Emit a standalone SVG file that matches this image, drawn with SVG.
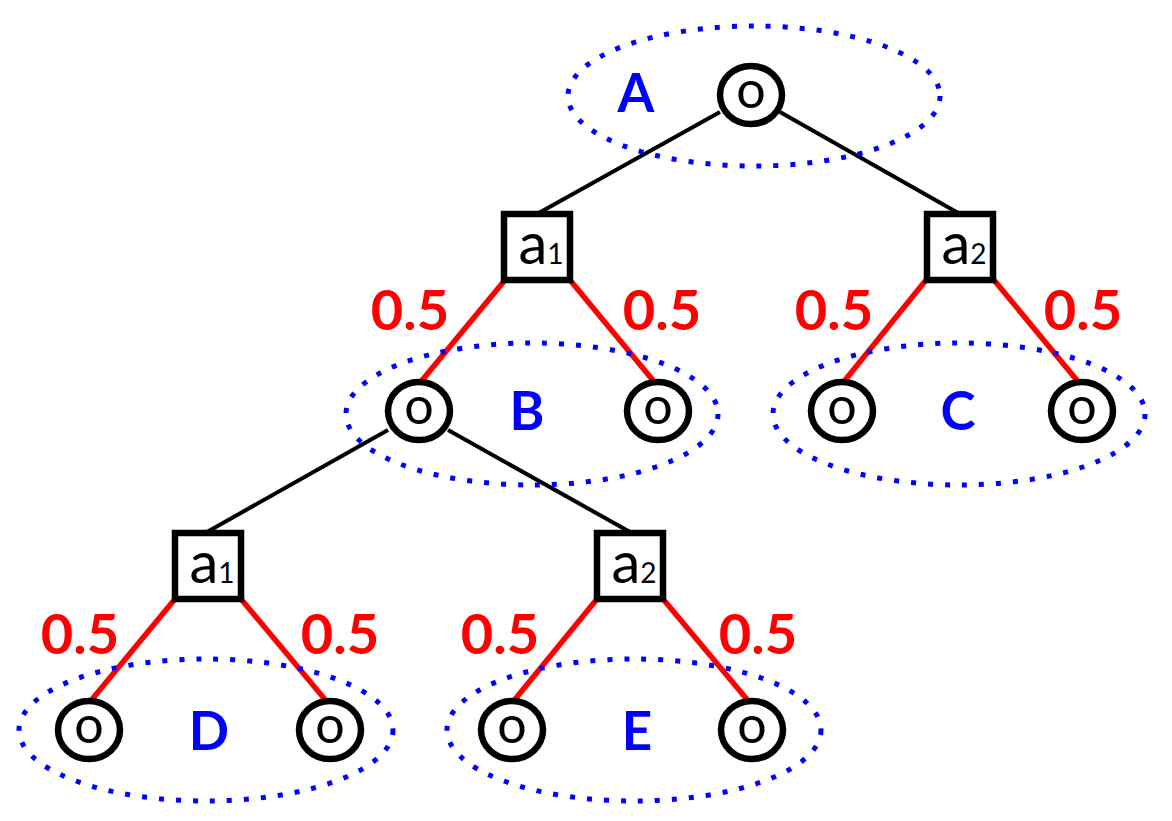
<svg xmlns="http://www.w3.org/2000/svg" width="1172" height="821" viewBox="0 0 1172 821">
<style>
.grp{fill:none;stroke:#0000ff;stroke-width:5;stroke-dasharray:5 12}
.edge{stroke:#000;stroke-width:4;fill:none}
.prob{stroke:#ff0000;stroke-width:5.5;fill:none}
.obs ellipse{fill:#fff;stroke:#000;stroke-width:6.5}
.act rect{fill:#fff;stroke:#000;stroke-width:6.5}
.t{font-family:Lato,"Liberation Sans",sans-serif;fill:#000;text-anchor:middle}
.o{font-size:52px}
.a{font-size:58px}
.sub{font-size:28px}
.lbl{font-family:Lato,"Liberation Sans",sans-serif;font-weight:bold;fill:#0000ff;font-size:53px;text-anchor:middle}
.p{font-family:Lato,"Liberation Sans",sans-serif;font-weight:bold;fill:#ff0000;font-size:56px;text-anchor:middle}
</style>
<g id="connectors">
<line class="edge" x1="720" y1="112" x2="537" y2="214"/>
<line class="edge" x1="780" y1="112" x2="960" y2="214"/>
<line class="edge" x1="388" y1="430" x2="207" y2="532"/>
<line class="edge" x1="448" y1="430" x2="630" y2="532"/>
<line class="prob" x1="505" y1="280" x2="419" y2="384"/>
<line class="prob" x1="570" y1="280" x2="656" y2="384"/>
<line class="prob" x1="926" y1="280" x2="842" y2="384"/>
<line class="prob" x1="994" y1="280" x2="1080" y2="384"/>
<line class="prob" x1="175" y1="599" x2="89" y2="703"/>
<line class="prob" x1="241" y1="599" x2="328" y2="703"/>
<line class="prob" x1="597" y1="599" x2="512" y2="703"/>
<line class="prob" x1="663" y1="599" x2="750" y2="703"/>
</g>
<g id="groups">
<ellipse class="grp" cx="754" cy="96" rx="186" ry="70"/>
<ellipse class="grp" cx="532" cy="414" rx="186" ry="71"/>
<ellipse class="grp" cx="959" cy="414" rx="186" ry="71"/>
<ellipse class="grp" cx="206" cy="730" rx="187" ry="71"/>
<ellipse class="grp" cx="634" cy="730" rx="187" ry="71"/>
</g>
<g id="labels">
<text class="lbl" x="636" y="112">A</text>
<text class="lbl" x="527" y="430">B</text>
<text class="lbl" x="958" y="430">C</text>
<text class="lbl" x="209" y="750">D</text>
<text class="lbl" x="637" y="750">E</text>
<text class="p" x="410" y="330">0.5</text>
<text class="p" x="662" y="330">0.5</text>
<text class="p" x="834" y="330">0.5</text>
<text class="p" x="1083" y="330">0.5</text>
<text class="p" x="80" y="654">0.5</text>
<text class="p" x="340" y="654">0.5</text>
<text class="p" x="500" y="654">0.5</text>
<text class="p" x="758" y="654">0.5</text>
</g>
<g id="root" class="obs"><ellipse cx="751" cy="95" rx="31" ry="29"/><text class="t o" x="751" y="108">o</text></g>
<g id="a1-top" class="act"><rect x="504" y="214" width="66" height="66"/><text class="t a" x="541" y="264">a<tspan class="sub">1</tspan></text></g>
<g id="a2-top" class="act"><rect x="927" y="214" width="66" height="66"/><text class="t a" x="964" y="264">a<tspan class="sub">2</tspan></text></g>
<g id="B1" class="obs"><ellipse cx="419" cy="411" rx="31" ry="29"/><text class="t o" x="419" y="424">o</text></g>
<g id="B2" class="obs"><ellipse cx="658" cy="411" rx="31" ry="29"/><text class="t o" x="658" y="424">o</text></g>
<g id="C1" class="obs"><ellipse cx="842" cy="411" rx="31" ry="29"/><text class="t o" x="842" y="424">o</text></g>
<g id="C2" class="obs"><ellipse cx="1082" cy="411" rx="31" ry="29"/><text class="t o" x="1082" y="424">o</text></g>
<g id="a1-low" class="act"><rect x="175" y="533" width="66" height="66"/><text class="t a" x="212" y="583">a<tspan class="sub">1</tspan></text></g>
<g id="a2-low" class="act"><rect x="597" y="533" width="66" height="66"/><text class="t a" x="634" y="583">a<tspan class="sub">2</tspan></text></g>
<g id="D1" class="obs"><ellipse cx="89" cy="730" rx="31" ry="29"/><text class="t o" x="89" y="743">o</text></g>
<g id="D2" class="obs"><ellipse cx="330" cy="730" rx="31" ry="29"/><text class="t o" x="330" y="743">o</text></g>
<g id="E1" class="obs"><ellipse cx="512" cy="730" rx="31" ry="29"/><text class="t o" x="512" y="743">o</text></g>
<g id="E2" class="obs"><ellipse cx="752" cy="730" rx="31" ry="29"/><text class="t o" x="752" y="743">o</text></g>
</svg>
